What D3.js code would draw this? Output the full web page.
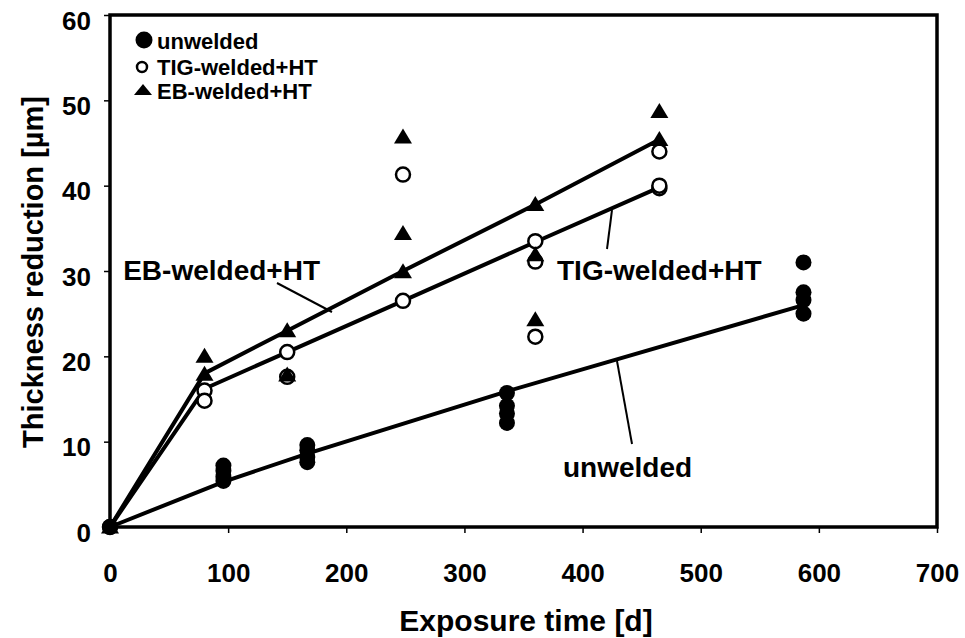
<!DOCTYPE html>
<html>
<head>
<meta charset="utf-8">
<script src="https://cdn.jsdelivr.net/npm/d3@7"></script>
<style>
  html, body { margin: 0; padding: 0; background: #fff; }
  svg { display: block; }
  text { font-family: "Liberation Sans", Arial, sans-serif; font-weight: bold; fill: #000; }
</style>
</head>
<body>
<svg id="chart" width="965" height="638"></svg>
<script>
// Measured thickness reduction (µm) against exposure time (days)
const unweldedTime  = [0, 96, 96, 96, 96, 167, 167, 167, 167, 336, 336, 336, 336, 587, 587, 587, 587];
const unweldedThick = [0, 7.2, 6.6, 5.9, 5.4, 9.6, 9.0, 8.2, 7.6, 15.7, 14.2, 13.3, 12.2, 31.0, 27.5, 26.6, 25.0];

const tigTime  = [0, 80, 80, 150, 150, 248, 248, 360, 360, 360, 465, 465, 465];
const tigThick = [0, 16.0, 14.8, 20.5, 17.6, 41.3, 26.5, 33.5, 31.1, 22.3, 44.0, 39.7, 40.0];

const ebTime  = [0, 80, 80, 150, 150, 248, 248, 248, 360, 360, 360, 465, 465];
const ebThick = [0, 20.0, 17.9, 23.0, 17.8, 45.7, 34.4, 29.9, 37.8, 31.9, 24.3, 48.7, 45.4];

// Trend lines drawn through each series
const unweldedFitTime = [0, 96, 167, 336, 587];
const unweldedFit     = [0, 5.3, 8.6, 15.9, 26.0];
const tigFitTime = [0, 80, 150, 248, 360, 465];
const tigFit     = [0, 16.2, 20.5, 26.5, 33.4, 39.8];
const ebFitTime  = [0, 80, 150, 248, 360, 465];
const ebFit      = [0, 18.0, 23.0, 30.0, 37.8, 45.4];

// Axis ticks and text
const xTicks = [0, 100, 200, 300, 400, 500, 600, 700];
const yTicks = [0, 10, 20, 30, 40, 50, 60];
const seriesNames = ["unwelded", "TIG-welded+HT", "EB-welded+HT"];
const xTitle = "Exposure time [d]";
const yTitle = "Thickness reduction [µm]";

const svg = d3.select("#chart");
const plot = { left: 110, right: 937, top: 15, bottom: 527 };

const x = d3.scaleLinear().domain([0, 700]).range([plot.left, plot.right]);
const y = d3.scaleLinear().domain([0, 60]).range([plot.bottom, plot.top]);

// Axes
const xAxis = svg.append("g")
  .attr("transform", `translate(0,${plot.bottom})`)
  .call(d3.axisBottom(x).tickValues(xTicks).tickSize(6).tickPadding(31).tickFormat(d3.format("d")));
const yAxis = svg.append("g")
  .attr("transform", `translate(${plot.left},0)`)
  .call(d3.axisLeft(y).tickValues(yTicks).tickSize(6).tickPadding(13).tickFormat(d3.format("d")));

[xAxis, yAxis].forEach(g => {
  g.select(".domain").remove();
  g.selectAll(".tick line").attr("stroke", "#000").attr("stroke-width", 1.5);
  g.selectAll(".tick text").style("font-size", "26px").attr("fill", "#000");
});
xAxis.selectAll(".tick text").attr("dy", "0.71em");
yAxis.selectAll(".tick text").attr("dy", "0.55em");

// Plot frame
svg.append("rect")
  .attr("x", plot.left).attr("y", plot.top)
  .attr("width", plot.right - plot.left).attr("height", plot.bottom - plot.top)
  .attr("fill", "none").attr("stroke", "#000").attr("stroke-width", 3.5);

// Axis titles
svg.append("text")
  .attr("x", 526).attr("y", 631)
  .attr("text-anchor", "middle")
  .style("font-size", "30px")
  .text(xTitle);
svg.append("text")
  .attr("transform", "translate(43,272) rotate(-90)")
  .attr("text-anchor", "middle")
  .style("font-size", "29px")
  .text(yTitle);

// Trend lines
const line = d3.line().x(d => x(d[0])).y(d => y(d[1]));
const fits = [
  d3.zip(unweldedFitTime, unweldedFit),
  d3.zip(tigFitTime, tigFit),
  d3.zip(ebFitTime, ebFit)
];
svg.append("g").selectAll("path").data(fits).join("path")
  .attr("d", line)
  .attr("fill", "none").attr("stroke", "#000").attr("stroke-width", 4)
  .attr("stroke-linejoin", "round");

// Markers
const triangle = "M0,-8.5L9,6.5L-9,6.5Z";
svg.append("g").selectAll("circle").data(d3.zip(tigTime, tigThick)).join("circle")
  .attr("cx", d => x(d[0])).attr("cy", d => y(d[1])).attr("r", 7)
  .attr("fill", "#fff").attr("stroke", "#000").attr("stroke-width", 2.5);
svg.append("g").selectAll("path").data(d3.zip(ebTime, ebThick)).join("path")
  .attr("transform", d => `translate(${x(d[0])},${y(d[1])})`)
  .attr("d", triangle).attr("fill", "#000");
svg.append("g").selectAll("circle").data(d3.zip(unweldedTime, unweldedThick)).join("circle")
  .attr("cx", d => x(d[0])).attr("cy", d => y(d[1])).attr("r", 8)
  .attr("fill", "#000");

// Legend
const legend = svg.append("g");
const legendRows = [40, 67, 90];
legend.append("circle").attr("cx", 144).attr("cy", legendRows[0]).attr("r", 8.5).attr("fill", "#000");
legend.append("circle").attr("cx", 142).attr("cy", legendRows[1]).attr("r", 5).attr("fill", "#fff")
  .attr("stroke", "#000").attr("stroke-width", 2.5);
legend.append("path").attr("transform", `translate(143,${legendRows[2]})`)
  .attr("d", "M0,-6L9,5L-9,5Z").attr("fill", "#000");
legend.selectAll("text").data(seriesNames).join("text")
  .attr("x", 157).attr("y", (d, i) => [49, 75, 99][i])
  .style("font-size", "22px")
  .text(d => d);

// Series labels with leader lines
const labels = [
  { text: "EB-welded+HT", x: 320, y: 280, anchor: "end", from: [277, 283], to: [332, 312] },
  { text: "TIG-welded+HT", x: 557, y: 280, anchor: "start", from: [612, 210], to: [607, 249] },
  { text: "unwelded", x: 563, y: 477, anchor: "start", from: [617, 361], to: [632, 444] }
];
const ann = svg.append("g");
ann.selectAll("line").data(labels).join("line")
  .attr("x1", d => d.from[0]).attr("y1", d => d.from[1])
  .attr("x2", d => d.to[0]).attr("y2", d => d.to[1])
  .attr("stroke", "#000").attr("stroke-width", 2);
ann.selectAll("text").data(labels).join("text")
  .attr("x", d => d.x).attr("y", d => d.y)
  .attr("text-anchor", d => d.anchor)
  .style("font-size", "28px")
  .text(d => d.text);
</script>
</body>
</html>
